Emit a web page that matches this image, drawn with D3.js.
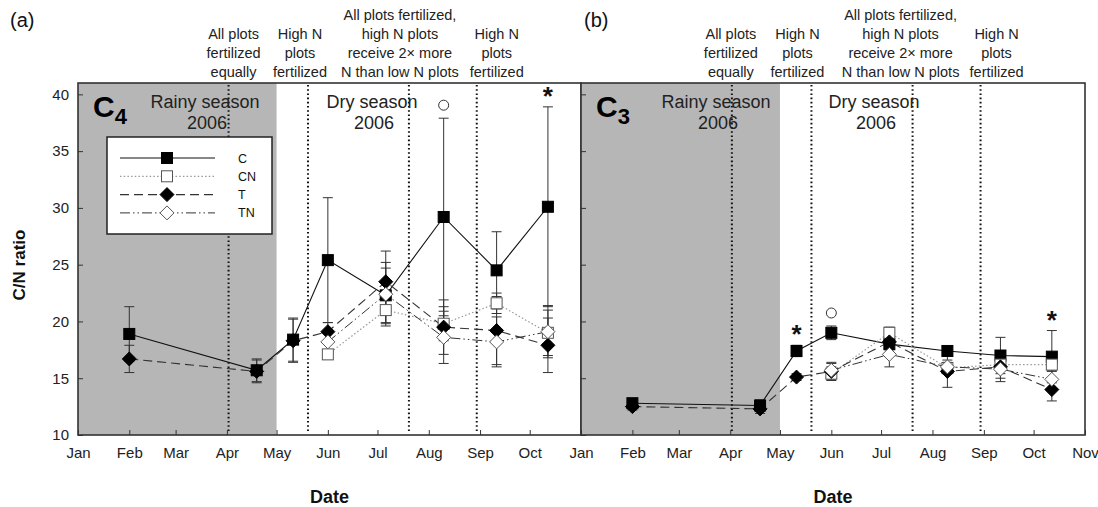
<!DOCTYPE html>
<html>
<head>
<meta charset="utf-8">
<script src="https://cdn.jsdelivr.net/npm/d3@7"></script>
<style>
  body { margin: 0; background: #fff; }
  svg { display: block; }
  text { font-family: "Liberation Sans", Arial, Helvetica, sans-serif; fill: #111; }
</style>
</head>
<body>
<svg id="chart" width="1098" height="507"></svg>
<script>
// ---- data -------------------------------------------------------------
const monthLabels = ["Jan", "Feb", "Mar", "Apr", "May", "Jun", "Jul", "Aug", "Sep", "Oct", "Nov"];
const sampleDates = ["2006-02-01", "2006-04-19", "2006-05-11", "2006-06-01", "2006-07-06", "2006-08-10", "2006-09-11", "2006-10-12"];
const yTicks = [10, 15, 20, 25, 30, 35, 40];
const seriesNames = ["C", "CN", "T", "TN"];

// C4 grass (panel a)
const c4C    = [18.9, 15.7, 18.4, 25.4, 22.3, 29.2, 24.5, 30.1];
const c4CN   = [null, null, null, 17.1, 21.0, 19.8, 21.6, 19.0];
const c4T    = [16.7, 15.6, 18.3, 19.1, 23.5, 19.5, 19.2, 17.9];
const c4TN   = [null, null, null, 18.2, 22.4, 18.6, 18.2, 19.1];
const c4CErr  = [2.4, 1.0, 1.9, 5.5, 2.4, 8.7, 3.4, 8.8];
const c4CNErr = [null, null, null, 0.4, 1.2, 1.5, 0.9, 2.0];
const c4TErr  = [1.2, 1.0, 1.9, 0.8, 2.7, 2.4, 3.0, 2.4];
const c4TNErr = [null, null, null, 0.8, 2.8, 2.3, 2.2, 2.3];

// C3 forb (panel b)
const c3C    = [12.8, 12.6, 17.4, 19.0, 18.0, 17.4, 17.0, 16.9];
const c3CN   = [null, null, null, 15.4, 19.0, 15.9, 16.2, 16.2];
const c3T    = [12.5, 12.3, 15.1, 15.6, 18.2, 15.6, 16.0, 14.0];
const c3TN   = [null, null, null, 15.7, 17.1, 16.0, 15.8, 14.9];
const c3CErr  = [0.4, 0.5, 0.5, 0.6, 0.5, 0.3, 1.6, 2.3];
const c3CNErr = [null, null, null, 0.6, 0.5, 0.5, 0.5, 0.6];
const c3TErr  = [0.3, 0.4, 0.3, 0.7, 0.6, 1.4, 1.0, 1.0];
const c3TNErr = [null, null, null, 0.7, 1.1, 0.6, 1.1, 0.8];

// fertilization events and their captions
const eventDates = ["2006-04-02", "2006-05-20", "2006-07-20", "2006-08-30"];
const eventCaptions = [
  ["All plots", "fertilized", "equally"],
  ["High N", "plots", "fertilized"],
  ["All plots fertilized,", "high N plots", "receive 2\u00d7 more", "N than low N plots"],
  ["High N", "plots", "fertilized"]
];
const rainyEnd = "2006-05-01";

// significance marks: [sample index, symbol]
const c4Marks = [[5, "o"], [7, "*"]];
const c3Marks = [[2, "*"], [3, "o"], [7, "*"]];

// ---- layout -------------------------------------------------------------
const svg = d3.select("#chart");
const parse = d3.timeParse("%Y-%m-%d");
const dates = sampleDates.map(parse);
const plotTop = 83, plotBottom = 435;
const y = d3.scaleLinear().domain([10, 41]).range([plotBottom, plotTop]);
const xDomain = [new Date(2006, 0, 1), new Date(2006, 10, 1)];

const styles = {
  C:  { dash: null, color: "#111", width: 1.1, shape: "square", fill: "#000" },
  CN: { dash: "1.5,2.2", color: "#999", width: 1.2, shape: "square", fill: "#fff" },
  T:  { dash: "9,5", color: "#333", width: 1.1, shape: "diamond", fill: "#000" },
  TN: { dash: "10,3,1.5,3,1.5,3", color: "#333", width: 1.0, shape: "diamond", fill: "#fff" }
};

function marker(g, shape, fill, cx, cy) {
  if (shape === "square") {
    g.append("rect").attr("x", cx - 5.5).attr("y", cy - 5.5).attr("width", 11).attr("height", 11)
      .attr("fill", fill).attr("stroke", fill === "#000" ? "#000" : "#555").attr("stroke-width", 1);
  } else {
    const r = 7;
    g.append("path").attr("d", `M${cx},${cy - r}L${cx + r},${cy}L${cx},${cy + r}L${cx - r},${cy}Z`)
      .attr("fill", fill).attr("stroke", fill === "#000" ? "#000" : "#555").attr("stroke-width", 1);
  }
}

function drawPanel(opts) {
  const x = d3.scaleTime().domain(xDomain).range([opts.left, opts.right]);
  const g = svg.append("g");

  // rainy season shading
  g.append("rect").attr("x", opts.left).attr("y", plotTop)
    .attr("width", x(parse(rainyEnd)) - opts.left).attr("height", plotBottom - plotTop)
    .attr("fill", "#b6b6b6");

  // fertilization event lines
  eventDates.forEach(d => {
    const xe = x(parse(d));
    g.append("line").attr("x1", xe).attr("x2", xe).attr("y1", plotTop + 2).attr("y2", plotBottom - 2)
      .attr("stroke", "#111").attr("stroke-width", 2).attr("stroke-dasharray", "1.6,2.6");
  });

  // event captions above the frame
  eventCaptions.forEach((lines, i) => {
    const xe = x(parse(eventDates[i])) + opts.captionShift[i];
    const n = lines.length;
    lines.forEach((t, j) => {
      g.append("text").attr("x", xe).attr("y", 77 - (n - 1 - j) * 19)
        .attr("text-anchor", "middle").attr("font-size", 14.5).style("fill", "#222").text(t);
    });
  });

  // season labels
  const seasonText = (cx, l1, l2) => {
    g.append("text").attr("x", cx).attr("y", 108).attr("text-anchor", "middle")
      .attr("font-size", 18).style("fill", "#222").text(l1);
    g.append("text").attr("x", cx + 2).attr("y", 129).attr("text-anchor", "middle")
      .attr("font-size", 18).style("fill", "#222").text(l2);
  };
  seasonText(opts.rainyX, "Rainy season", "2006");
  seasonText(opts.dryX, "Dry season", "2006");

  // panel species label with subscript
  const lab = g.append("text").attr("x", opts.left + 15).attr("y", 117)
    .attr("font-size", 30).attr("font-weight", "bold").style("fill", "#000");
  lab.append("tspan").text("C");
  lab.append("tspan").attr("font-size", 22).attr("dy", 7).text(opts.sub);

  // axes
  const xAxis = d3.axisBottom(x)
    .tickValues(d3.timeMonth.range(xDomain[0], d3.timeDay.offset(xDomain[1], 1)))
    .tickSizeInner(-5).tickSizeOuter(0).tickPadding(12)
    .tickFormat(d => opts.monthLabelFilter(d.getMonth()) ? monthLabels[d.getMonth()] : "");
  const xa = g.append("g").attr("transform", `translate(0,${plotBottom})`).call(xAxis);
  xa.select(".domain").remove();
  xa.selectAll(".tick line").attr("stroke", "#333");
  xa.selectAll(".tick text").attr("font-size", 15).style("fill", "#222")
    .attr("font-family", "Liberation Sans, Arial, sans-serif");

  const yAxis = d3.axisLeft(y).tickValues(yTicks).tickSizeInner(-5).tickSizeOuter(0).tickPadding(9)
    .tickFormat(d => opts.yLabels ? d : "");
  const ya = g.append("g").attr("transform", `translate(${opts.left},0)`).call(yAxis);
  ya.select(".domain").remove();
  ya.selectAll(".tick line").attr("stroke", "#333");
  ya.selectAll(".tick text").attr("font-size", 15).style("fill", "#222")
    .attr("font-family", "Liberation Sans, Arial, sans-serif");

  // frame
  g.append("rect").attr("x", opts.left).attr("y", plotTop).attr("width", opts.right - opts.left)
    .attr("height", plotBottom - plotTop).attr("fill", "none").attr("stroke", "#333").attr("stroke-width", 1.6);

  // series
  const data = opts.series;
  const order = ["C", "CN", "T", "TN"];
  // error bars first
  order.forEach(name => {
    const vals = data[name].v, errs = data[name].e;
    vals.forEach((v, i) => {
      if (v == null || errs[i] == null) return;
      const xi = x(dates[i]);
      const y1 = y(v + errs[i]), y0 = y(v - errs[i]);
      g.append("line").attr("x1", xi).attr("x2", xi).attr("y1", y1).attr("y2", y0)
        .attr("stroke", "#333").attr("stroke-width", 1);
      [y1, y0].forEach(yy => g.append("line").attr("x1", xi - 5).attr("x2", xi + 5)
        .attr("y1", yy).attr("y2", yy).attr("stroke", "#333").attr("stroke-width", 1));
    });
  });
  // connecting lines
  order.forEach(name => {
    const s = styles[name];
    const pts = data[name].v.map((v, i) => [dates[i], v]).filter(p => p[1] != null);
    const line = d3.line().x(p => x(p[0])).y(p => y(p[1]));
    g.append("path").attr("d", line(pts)).attr("fill", "none")
      .attr("stroke", s.color).attr("stroke-width", s.width)
      .attr("stroke-dasharray", s.dash);
  });
  // markers
  order.forEach(name => {
    const s = styles[name];
    data[name].v.forEach((v, i) => {
      if (v == null) return;
      marker(g, s.shape, s.fill, x(dates[i]), y(v));
    });
  });

  // significance marks above the C error bar
  opts.marks.forEach(([i, sym]) => {
    const xi = x(dates[i]);
    const yc = y(data.C.v[i] + data.C.e[i]) - 13;
    if (sym === "o") {
      g.append("circle").attr("cx", xi).attr("cy", yc).attr("r", 5)
        .attr("fill", "none").attr("stroke", "#333").attr("stroke-width", 1);
    } else {
      g.append("text").attr("x", xi).attr("y", yc + 11).attr("text-anchor", "middle")
        .attr("font-size", 26).attr("font-weight", "bold").style("fill", "#111").text("*");
    }
  });

  // x-axis title
  g.append("text").attr("x", (opts.left + opts.right) / 2).attr("y", 503)
    .attr("text-anchor", "middle").attr("font-size", 18).attr("font-weight", "bold")
    .style("fill", "#111").text("Date");

  // panel tag
  g.append("text").attr("x", opts.tagX).attr("y", 27).attr("font-size", 20)
    .style("fill", "#111").text(opts.tag);

  return x;
}

// legend (panel a)
function drawLegend(x0, y0) {
  const g = svg.append("g");
  g.append("rect").attr("x", x0).attr("y", y0).attr("width", 165).attr("height", 97)
    .attr("fill", "#fff").attr("stroke", "#222").attr("stroke-width", 1.5);
  seriesNames.forEach((name, i) => {
    const s = styles[name];
    const yy = y0 + 21 + i * 18.3;
    g.append("line").attr("x1", x0 + 13).attr("x2", x0 + 108).attr("y1", yy).attr("y2", yy)
      .attr("stroke", s.color).attr("stroke-width", s.width).attr("stroke-dasharray", s.dash);
    marker(g, s.shape, s.fill, x0 + 60, yy);
    g.append("text").attr("x", x0 + 131).attr("y", yy + 4.5).attr("font-size", 12.5)
      .style("fill", "#111").text(name);
  });
}

drawPanel({
  left: 78, right: 581, sub: "4", tag: "(a)", tagX: 10, yLabels: true,
  rainyX: 205, dryX: 372,
  captionShift: [5, -8, -9, 20],
  monthLabelFilter: m => m <= 9,
  series: {
    C: { v: c4C, e: c4CErr }, CN: { v: c4CN, e: c4CNErr },
    T: { v: c4T, e: c4TErr }, TN: { v: c4TN, e: c4TNErr }
  },
  marks: c4Marks
});
drawPanel({
  left: 581, right: 1085, sub: "3", tag: "(b)", tagX: 584, yLabels: false,
  rainyX: 716, dryX: 874,
  captionShift: [-1, -14, -12, 16],
  monthLabelFilter: m => true,
  series: {
    C: { v: c3C, e: c3CErr }, CN: { v: c3CN, e: c3CNErr },
    T: { v: c3T, e: c3TErr }, TN: { v: c3TN, e: c3TNErr }
  },
  marks: c3Marks
});
drawLegend(107, 137);

// y-axis title
svg.append("text").attr("transform", "translate(25,265) rotate(-90)")
  .attr("text-anchor", "middle").attr("font-size", 17).attr("font-weight", "bold")
  .style("fill", "#111").text("C/N ratio");
</script>
</body>
</html>
